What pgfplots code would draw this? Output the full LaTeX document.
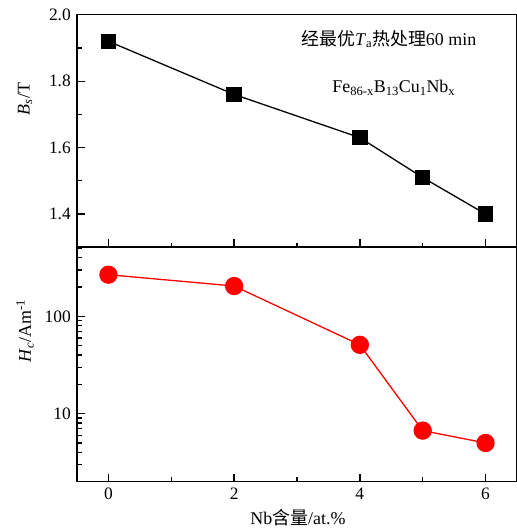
\documentclass[border=0pt]{standalone}
\usepackage{fontspec}
\setmainfont{Liberation Serif}
\newfontfamily\cjk{Noto Sans CJK SC}
\usepackage{pgfplots}
\pgfplotsset{compat=1.18}
\begin{document}
\fontsize{18}{21}\selectfont
\begin{tikzpicture}
\pgfplotsset{every axis/.append style={
  scale only axis, width=440bp,
  xmin=-0.5, xmax=6.5, xtick={0,2,4,6}, minor xtick={1,3,5},
  tick align=inside, xtick pos=lower, ytick pos=left,
  major tick length=8bp, minor tick length=4.5bp,
  axis line style={line width=1.6bp},
  every tick/.style={line width=1.3bp, black},
  /pgf/number format/assume math mode=true,
  tick label style={font=\fontsize{17.5}{21}\selectfont},
  label style={font=\fontsize{18}{21}\selectfont},
  clip=false}}
% top panel
\begin{axis}[at={(77bp,281.7bp)}, anchor=south west, height=232.6bp,
  ymin=1.3, ymax=2.0, ytick={1.4,1.6,1.8,2.0}, minor ytick={1.5,1.7,1.9},
  xticklabels={},
  yticklabel style={/pgf/number format/.cd, fixed, fixed zerofill, precision=1},
  ylabel={\textit{B}\textsubscript{\textit{s}}/T},
  ylabel style={at={(axis description cs:-0.118,0.638)}, anchor=center}]
\addplot[black, line width=1.3bp, mark=square*, mark size=7bp] coordinates {
  (0,1.92) (2,1.76) (4,1.63) (5,1.51) (6,1.40)};
\node[font=\fontsize{18}{21}\selectfont] at (axis cs:4.46,1.927) {{\cjk 经最优}\textit{T}\textsubscript{a}{\cjk 热处理}60 min};
\node[font=\fontsize{18}{21}\selectfont] at (axis cs:4.54,1.78) {Fe\textsubscript{86-x}B\textsubscript{13}Cu\textsubscript{1}Nb\textsubscript{x}};
\end{axis}
% bottom panel
\begin{axis}[at={(77bp,47.3bp)}, anchor=south west, height=235bp,
  ymode=log, ymin=2, ymax=520, ytick={10,100}, yticklabels={10,100},
  minor ytick={3,4,5,6,7,8,9,20,30,40,50,60,70,80,90,200,300,400,500},
  ylabel={\textit{H}\textsubscript{\textit{c}}/Am\textsuperscript{-1}},
  ylabel style={at={(axis description cs:-0.118,0.641)}, anchor=center},
  xlabel={Nb{\cjk 含量}/at.\%},
  xlabel style={at={(axis description cs:0.502,-0.152)}, anchor=center}]
\addplot[red, line width=1.3bp, mark=*, mark size=8.5bp, mark options={fill=red, draw=red}] coordinates {
  (0,268) (2,205) (4,51) (5,6.7) (6,5.0)};
\end{axis}
\pgfresetboundingbox
\path[use as bounding box] (0,0) rectangle (517bp,529bp);
\end{tikzpicture}
\end{document}
